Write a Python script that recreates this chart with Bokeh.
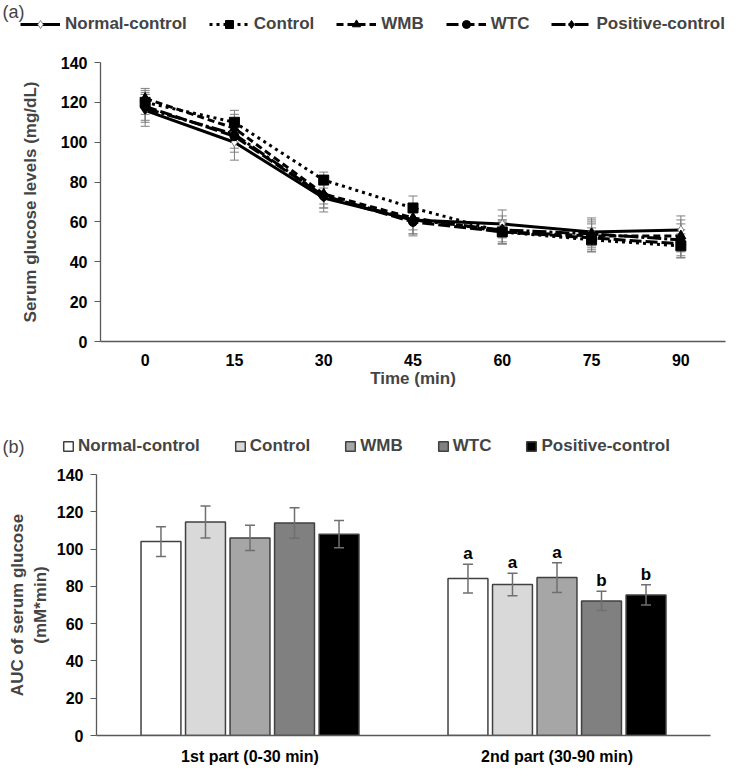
from bokeh.plotting import figure
from bokeh.models import (ColumnDataSource, Range1d, FixedTicker, Whisker, TeeHead,
                          Legend, LegendItem, Label)
from bokeh.layouts import column
from bokeh.embed import file_html
from bokeh.resources import INLINE
from bokeh.core.properties import value

FONT = "Liberation Sans"

# ---------------- data: panel (a) ----------------
times = [0, 15, 30, 45, 60, 75, 90]
series_names = ["Normal-control", "Control", "WMB", "WTC", "Positive-control"]
normal_control = [116, 100, 72, 61, 59, 55, 56]
control = [120, 110, 81, 67, 55, 51, 48]
wmb = [122, 107, 74, 62, 55, 53, 53]
wtc = [118, 103, 73, 60, 55, 52, 49]
positive_control = [117, 104, 73, 61, 56, 54, 51]
normal_control_err = [8, 9, 7, 8, 7, 7, 7]
control_err = [6, 6, 4, 6, 5, 6, 6]
wmb_err = [5, 7, 5, 6, 6, 7, 8]
wtc_err = [7, 8, 6, 6, 6, 7, 7]
positive_control_err = [7, 7, 6, 7, 7, 7, 8]
y_ticks_a = [0, 20, 40, 60, 80, 100, 120, 140]

# ---------------- data: panel (b) ----------------
parts = ["1st part (0-30 min)", "2nd part (30-90 min)"]
auc_part1 = [104, 114.5, 106, 114, 108]
auc_part1_err = [8, 8.6, 6.8, 8.2, 7.3]
auc_part2 = [84.2, 81, 84.7, 72.2, 75.4]
auc_part2_err = [7.7, 6, 8, 5.2, 5.4]
letters_part1 = ["", "", "", "", ""]
letters_part2 = ["a", "a", "a", "b", "b"]
y_ticks_b = [0, 20, 40, 60, 80, 100, 120, 140]

W = 726
AXIS_COLOR = "#595959"


def no_align(p):
    if "frame_align" in p.properties():
        p.frame_align = False


def header(height):
    # strip holding only the legend; its ranges lie far away from every data value
    h = figure(width=W, height=height, output_backend="svg", toolbar_location=None,
               x_range=Range1d(5000, 5001), y_range=Range1d(-5000, -4960),
               x_axis_location=None, y_axis_location=None, title=None,
               min_border_left=0, min_border_right=0, min_border_top=0, min_border_bottom=0)
    h.grid.visible = False
    h.outline_line_color = None
    no_align(h)
    return h


def style_axes(p):
    p.grid.visible = False
    p.outline_line_color = None
    for ax in (p.xaxis[0], p.yaxis[0]):
        ax.axis_line_color = AXIS_COLOR
        ax.axis_line_width = 1.3
        ax.major_label_text_font = FONT
        ax.major_label_text_font_style = "bold"
        ax.major_label_text_font_size = "16px"
        ax.major_label_text_color = "black"
        ax.axis_label_text_font = FONT
        ax.axis_label_text_font_style = "bold"
        ax.axis_label_text_font_size = "17px"
        ax.minor_tick_line_color = None
    p.xaxis.major_tick_line_color = None
    p.yaxis.major_tick_out = 6
    p.yaxis.major_tick_in = 0
    p.yaxis.major_tick_line_color = AXIS_COLOR
    p.yaxis.major_label_standoff = 7
    no_align(p)


# ================= panel (a) =================
h1 = header(40)
p1 = figure(width=W, height=350, output_backend="svg", toolbar_location=None,
            x_range=Range1d(-7.5, 97.5), y_range=Range1d(0, 140), title=None,
            min_border_left=100, min_border_right=1, min_border_top=22, min_border_bottom=47)

styles = [
    dict(dash="solid", marker="diamond", fill="white", mline="#808080", size=9),
    dict(dash="3 4", marker="square", fill="black", mline="black", size=10),
    dict(dash="7 4", marker="triangle", fill="black", mline="black", size=10),
    dict(dash="12 4", marker="circle", fill="black", mline="black", size=9),
    dict(dash="14 3 3 3", marker="diamond", fill="black", mline="black", size=12),
]
all_vals = [normal_control, control, wmb, wtc, positive_control]
all_errs = [normal_control_err, control_err, wmb_err, wtc_err, positive_control_err]

items = []
for name, vals, errs, st in zip(series_names, all_vals, all_errs, styles):
    src = ColumnDataSource(dict(x=times, y=vals,
                                upper=[v + e for v, e in zip(vals, errs)],
                                lower=[v - e for v, e in zip(vals, errs)]))
    w = Whisker(source=src, base="x", upper="upper", lower="lower",
                line_color="#7f7f7f", line_width=1,
                upper_head=TeeHead(size=9, line_color="#7f7f7f", line_width=1),
                lower_head=TeeHead(size=9, line_color="#7f7f7f", line_width=1))
    p1.add_layout(w)
    p1.line("x", "y", source=src, line_color="black", line_width=3, line_dash=st["dash"])
    p1.scatter("x", "y", source=src, marker=st["marker"], size=st["size"],
               fill_color=st["fill"], line_color=st["mline"], line_width=1)
    hl = h1.line("x", "y", source=src, line_color="black", line_width=3, line_dash=st["dash"],
                 visible=False)
    hm = h1.scatter("x", "y", source=src, marker=st["marker"], size=st["size"],
                    fill_color=st["fill"], line_color=st["mline"], line_width=1, visible=False)
    items.append(LegendItem(label=name, renderers=[hl, hm]))

leg1 = Legend(items=items, orientation="horizontal", location=(20, 6),
              label_text_font=FONT, label_text_font_style="bold", label_text_font_size="17px",
              glyph_width=40, glyph_height=20, label_height=20, label_standoff=5, spacing=22,
              padding=0, margin=0, background_fill_alpha=0, border_line_color=None)
h1.add_layout(leg1, "center")
h1.add_layout(Label(x=2, y=39, x_units="screen", y_units="screen", text="(a)",
                    text_font=FONT, text_font_size="18px", text_baseline="top"))

style_axes(p1)
p1.xaxis.ticker = FixedTicker(ticks=times)
p1.xaxis.major_label_standoff = 6
p1.xaxis.axis_label = "Time (min)"
p1.xaxis.axis_label_standoff = 0
p1.yaxis.ticker = FixedTicker(ticks=y_ticks_a)
p1.yaxis.axis_label = "Serum glucose levels (mg/dL)"
p1.yaxis.axis_label_standoff = 18

# ================= panel (b) =================
h2 = header(70)
p2 = figure(width=W, height=307, output_backend="svg", toolbar_location=None,
            x_range=Range1d(0.5, 2.5), y_range=Range1d(0, 140), title=None,
            min_border_left=96, min_border_right=16, min_border_top=14, min_border_bottom=27)

fills = ["#ffffff", "#d9d9d9", "#a6a6a6", "#808080", "#000000"]
offsets = [-0.29, -0.145, 0.0, 0.145, 0.29]
bar_w = 0.13
bitems = []
for i, name in enumerate(series_names):
    xs = [1 + offsets[i], 2 + offsets[i]]
    ys = [auc_part1[i], auc_part2[i]]
    es = [auc_part1_err[i], auc_part2_err[i]]
    lt = [letters_part1[i], letters_part2[i]]
    src = ColumnDataSource(dict(x=xs, top=ys,
                                upper=[y + e for y, e in zip(ys, es)],
                                lower=[y - e for y, e in zip(ys, es)],
                                lab=lt))
    p2.vbar(x="x", top="top", width=bar_w, bottom=0, source=src,
            fill_color=fills[i], line_color="#404040", line_width=1.5)
    w = Whisker(source=src, base="x", upper="upper", lower="lower", level="annotation",
                line_color="#6f6f6f", line_width=1.5,
                upper_head=TeeHead(size=10, line_color="#6f6f6f", line_width=1.5),
                lower_head=TeeHead(size=10, line_color="#6f6f6f", line_width=1.5))
    p2.add_layout(w)
    p2.text(x="x", y="upper", text="lab", source=src, text_align="center",
            text_baseline="bottom", y_offset=-1, text_font=value(FONT),
            text_font_style="bold", text_font_size="17px", text_color="black")
    hr = h2.vbar(x="x", top="top", width=bar_w, bottom=0, source=src,
                 fill_color=fills[i], line_color="#404040", line_width=1.5, visible=False)
    bitems.append(LegendItem(label=name, renderers=[hr]))

leg2 = Legend(items=bitems, orientation="horizontal", location=(62, 4),
              label_text_font=FONT, label_text_font_style="bold", label_text_font_size="17px",
              glyph_width=12, glyph_height=12, label_height=20, label_standoff=4, spacing=34,
              padding=0, margin=0, background_fill_alpha=0, border_line_color=None)
h2.add_layout(leg2, "center")
h2.add_layout(Label(x=2, y=14, x_units="screen", y_units="screen", text="(b)",
                    text_font=FONT, text_font_size="18px", text_baseline="middle"))

style_axes(p2)
p2.xaxis.ticker = FixedTicker(ticks=[1, 2])
p2.xaxis.major_label_overrides = {1: parts[0], 2: parts[1]}
p2.xaxis.major_label_standoff = 6
p2.yaxis.ticker = FixedTicker(ticks=y_ticks_b)
p2.yaxis.axis_label = "AUC of serum glucose\n(mM*min)"
p2.yaxis.axis_label_standoff = 4

layout = column(h1, p1, h2, p2, spacing=0)
open("out.html", "w").write(file_html(layout, INLINE))
